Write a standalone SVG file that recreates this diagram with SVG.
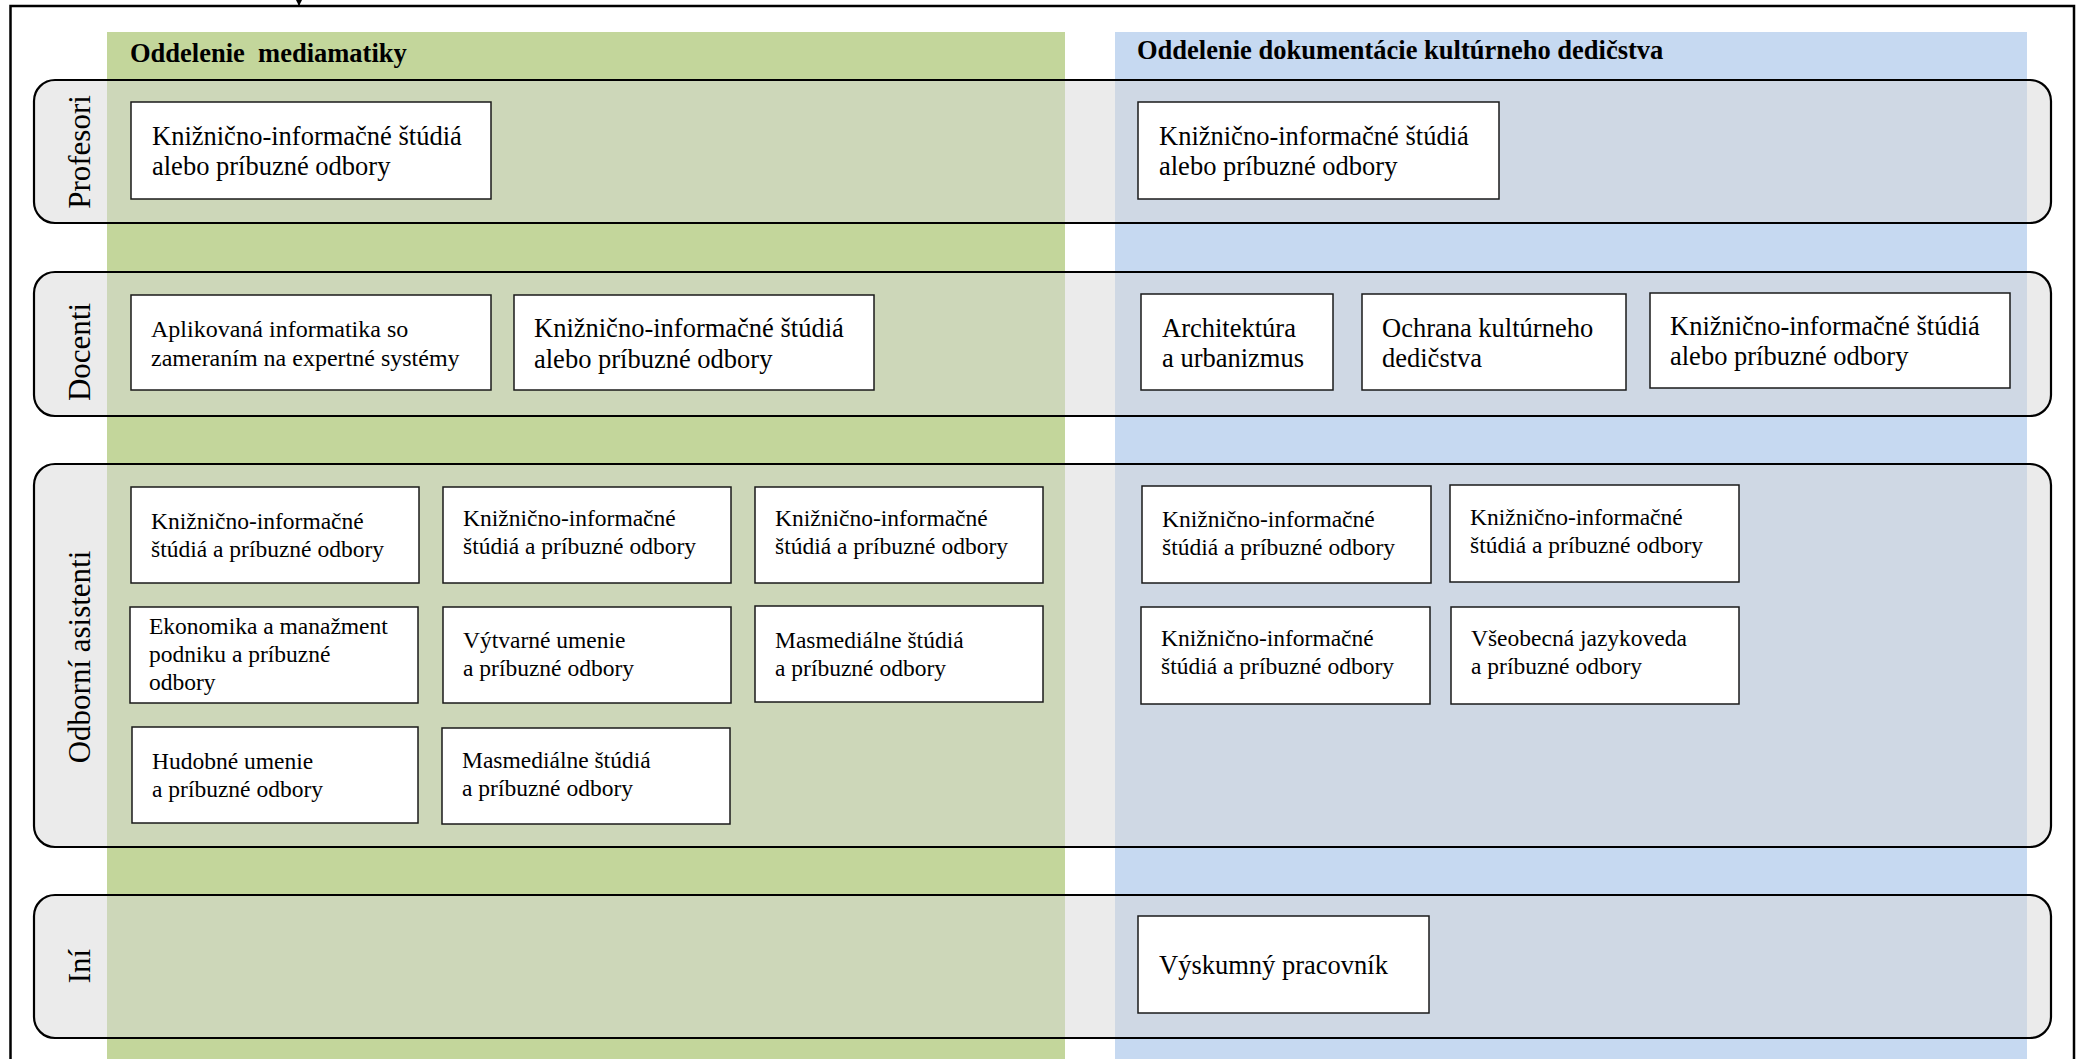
<svg xmlns="http://www.w3.org/2000/svg" width="2078" height="1059" viewBox="0 0 2078 1059">
<defs>
<marker id="arr" viewBox="0 0 10 10" refX="10" refY="5" markerWidth="8" markerHeight="8" markerUnits="userSpaceOnUse" orient="auto">
<path d="M0,0 L10,5 L0,10 z" fill="#000"/>
</marker>
<style>
.frame{fill:none;stroke:#000;stroke-width:2.5}
.colG{fill:#c3d69b}
.colB{fill:#c6d9f1}
.lane{fill:#d8d8d8;fill-opacity:0.5;stroke:#000;stroke-width:2.2}
.box{fill:#fff;stroke:#1a1a1a;stroke-width:1.5}
text{font-family:'Liberation Serif','Times New Roman',Times,'DejaVu Serif',serif;fill:#000}
.title{font-size:26.5px;font-weight:bold}
.lbl{font-size:31px;text-anchor:middle}
.big{font-size:26.5px}
.mid{font-size:24px}
.sm{font-size:23.5px}
</style>
</defs>
<rect x="0" y="0" width="2078" height="1059" fill="#fff"/>
<rect class="frame" x="10.5" y="6" width="2063.5" height="1070"/>

<g id="columns" font-family="Liberation Serif, serif">
<rect class="colG" x="107" y="32" width="958" height="1040"/>
<rect class="colB" x="1115" y="32" width="912" height="1040"/>
<text class="title" x="130" y="62" xml:space="preserve">Oddelenie  mediamatiky</text>
<text class="title" x="1137" y="59">Oddelenie dokumentácie kultúrneho dedičstva</text>
</g>

<g id="lanes" font-family="Liberation Serif, serif">
<g id="lane-profesori">
<rect class="lane" x="34" y="80" width="2017" height="143" rx="21" ry="21"/>
<text class="lbl" transform="translate(90,152) rotate(-90)">Profesori</text>
</g>
<g id="lane-docenti">
<rect class="lane" x="34" y="272" width="2017" height="144" rx="21" ry="21"/>
<text class="lbl" transform="translate(90,352) rotate(-90)">Docenti</text>
</g>
<g id="lane-asistenti">
<rect class="lane" x="34" y="464" width="2017" height="383" rx="21" ry="21"/>
<text class="lbl" transform="translate(90,657) rotate(-90)">Odborní asistenti</text>
</g>
<g id="lane-ini">
<rect class="lane" x="34" y="895" width="2017" height="143" rx="21" ry="21"/>
<text class="lbl" transform="translate(90,966) rotate(-90)">Iní</text>
</g>
</g>

<g id="nodes" font-family="Liberation Serif, serif">
<g id="prof-g1">
<rect class="box" x="131" y="102" width="360" height="97"/>
<text class="big" x="152" y="145">Knižnično-informačné štúdiá</text>
<text class="big" x="152" y="175">alebo príbuzné odbory</text>
</g>
<g id="prof-b1">
<rect class="box" x="1138" y="102" width="361" height="97"/>
<text class="big" x="1159" y="145">Knižnično-informačné štúdiá</text>
<text class="big" x="1159" y="175">alebo príbuzné odbory</text>
</g>

<g id="doc-g1">
<rect class="box" x="131" y="295" width="360" height="95"/>
<text class="mid" x="151" y="337">Aplikovaná informatika so</text>
<text class="mid" x="151" y="366">zameraním na expertné systémy</text>
</g>
<g id="doc-g2">
<rect class="box" x="514" y="295" width="360" height="95"/>
<text class="big" x="534" y="337">Knižnično-informačné štúdiá</text>
<text class="big" x="534" y="368">alebo príbuzné odbory</text>
</g>
<g id="doc-b1">
<rect class="box" x="1141" y="294" width="192" height="96"/>
<text class="big" x="1162" y="337">Architektúra</text>
<text class="big" x="1162" y="367">a urbanizmus</text>
</g>
<g id="doc-b2">
<rect class="box" x="1362" y="294" width="264" height="96"/>
<text class="big" x="1382" y="337">Ochrana kultúrneho</text>
<text class="big" x="1382" y="367">dedičstva</text>
</g>
<g id="doc-b3">
<rect class="box" x="1650" y="293" width="360" height="95"/>
<text class="big" x="1670" y="335">Knižnično-informačné štúdiá</text>
<text class="big" x="1670" y="365">alebo príbuzné odbory</text>
</g>

<g id="as-g1">
<rect class="box" x="131" y="487" width="288" height="96"/>
<text class="sm" x="151" y="529">Knižnično-informačné</text>
<text class="sm" x="151" y="557">štúdiá a príbuzné odbory</text>
</g>
<g id="as-g2">
<rect class="box" x="443" y="487" width="288" height="96"/>
<text class="sm" x="463" y="526">Knižnično-informačné</text>
<text class="sm" x="463" y="554">štúdiá a príbuzné odbory</text>
</g>
<g id="as-g3">
<rect class="box" x="755" y="487" width="288" height="96"/>
<text class="sm" x="775" y="526">Knižnično-informačné</text>
<text class="sm" x="775" y="554">štúdiá a príbuzné odbory</text>
</g>
<g id="as-g4">
<rect class="box" x="130" y="607" width="288" height="96"/>
<text class="sm" x="149" y="634">Ekonomika a manažment</text>
<text class="sm" x="149" y="662">podniku a príbuzné</text>
<text class="sm" x="149" y="690">odbory</text>
</g>
<g id="as-g5">
<rect class="box" x="443" y="607" width="288" height="96"/>
<text class="sm" x="463" y="648">Výtvarné umenie</text>
<text class="sm" x="463" y="676">a príbuzné odbory</text>
</g>
<g id="as-g6">
<rect class="box" x="755" y="606" width="288" height="96"/>
<text class="sm" x="775" y="648">Masmediálne štúdiá</text>
<text class="sm" x="775" y="676">a príbuzné odbory</text>
</g>
<g id="as-g7">
<rect class="box" x="132" y="727" width="286" height="96"/>
<text class="sm" x="152" y="769">Hudobné umenie</text>
<text class="sm" x="152" y="797">a príbuzné odbory</text>
</g>
<g id="as-g8">
<rect class="box" x="442" y="728" width="288" height="96"/>
<text class="sm" x="462" y="768">Masmediálne štúdiá</text>
<text class="sm" x="462" y="796">a príbuzné odbory</text>
</g>

<g id="as-b1">
<rect class="box" x="1142" y="486" width="289" height="97"/>
<text class="sm" x="1162" y="527">Knižnično-informačné</text>
<text class="sm" x="1162" y="555">štúdiá a príbuzné odbory</text>
</g>
<g id="as-b2">
<rect class="box" x="1450" y="485" width="289" height="97"/>
<text class="sm" x="1470" y="525">Knižnično-informačné</text>
<text class="sm" x="1470" y="553">štúdiá a príbuzné odbory</text>
</g>
<g id="as-b3">
<rect class="box" x="1141" y="607" width="289" height="97"/>
<text class="sm" x="1161" y="646">Knižnično-informačné</text>
<text class="sm" x="1161" y="674">štúdiá a príbuzné odbory</text>
</g>
<g id="as-b4">
<rect class="box" x="1451" y="607" width="288" height="97"/>
<text class="sm" x="1471" y="646">Všeobecná jazykoveda</text>
<text class="sm" x="1471" y="674">a príbuzné odbory</text>
</g>

<g id="ini-b1">
<rect class="box" x="1138" y="916" width="291" height="97"/>
<text class="big" x="1159" y="974">Výskumný pracovník</text>
</g>
</g>

<g id="connectors">
<line x1="299" y1="-20" x2="299" y2="6" stroke="#000" stroke-width="1.5" marker-end="url(#arr)"/>
</g>
</svg>
